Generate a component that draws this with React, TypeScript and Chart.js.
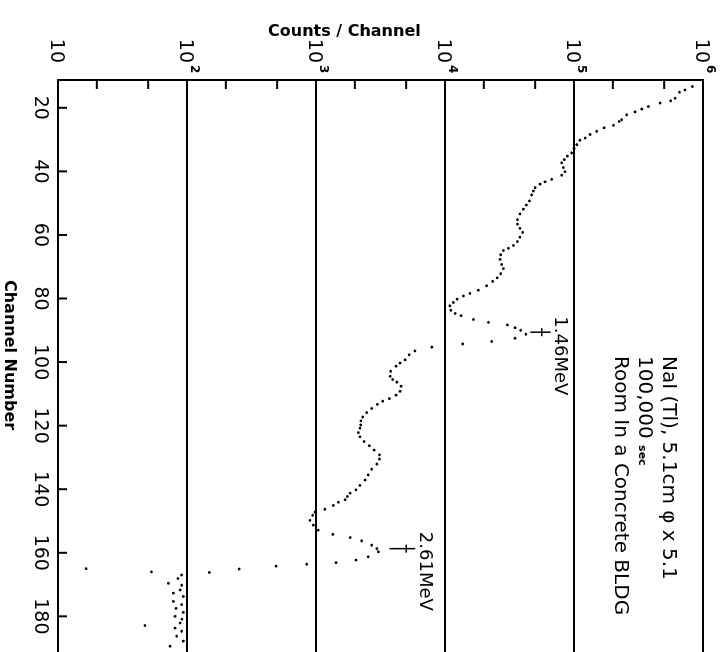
import React, { useEffect, useRef } from "react";
import { Chart, registerables } from "chart.js";

Chart.register(...registerables);

// Channel axis tick labels
const channelTicks = [20, 40, 60, 80, 100, 120, 140, 160, 180];
// Counts axis decades (exponents of 10) and minor tick multipliers
const countDecades = [1, 2, 3, 4, 5, 6];
const minorMultipliers = [2, 5];

// Spectrum dots (channel, counts/channel)
const channels = [
  13.3, 14.4, 15.1, 17.0, 17.8, 18.5, 19.6, 20.4, 21.3, 22.2,
  23.75, 24.3, 25.5, 26.3, 27.4, 28.4, 29.5, 30.2, 31.6, 32.8,
  34.2, 35.2, 36.3, 37.3, 38.8, 40.1, 41.2, 42.5, 43.3, 44.0,
  45.1, 46.2, 47.4, 49.3, 50.6, 51.9, 53.4, 55.2, 56.6, 57.9,
  59.2, 60.7, 62.1, 63.3, 64.2, 64.9, 66.25, 67.7, 69.3, 70.6,
  72.2, 73.5, 74.6, 76.0, 77.4, 78.4, 79.2, 80.2, 81.25, 82.3,
  83.7, 84.7, 85.4, 86.6, 87.5, 88.3, 89.2, 90.0, 91.25, 92.5,
  93.5, 94.3, 95.3, 96.5, 97.7, 99.3, 100.3, 101.3, 102.9, 104.5,
  105.5, 106.3, 107.6, 109.2, 110.4, 111.5, 112.3, 113.3, 114.6, 115.9,
  117.3, 118.5, 119.8, 120.8, 122.2, 123.5, 125.0, 126.3, 127.7, 129.2,
  130.5, 132.1, 133.7, 135.5, 137.1, 138.8, 140.2, 141.25, 142.3, 143.3,
  144.1, 145.1, 146.3, 147.2, 148.2, 149.8, 151.3, 152.9, 154.2, 155.2,
  156.25, 157.6, 158.7, 159.7, 161.25, 162.3, 163.1, 163.6, 164.2, 165.1,
  166.2, 165.0, 166.0, 167.0, 168.1, 169.6, 170.2, 171.7, 172.7, 173.75,
  175.3, 176.3, 177.5, 178.75, 180.0, 180.9, 182.1, 182.9, 183.7, 184.7,
  186.25, 187.8, 189.4,
];
const counts = [
  826000, 724000, 656000, 607000, 562000, 465000, 377000, 335000, 297000, 256000,
  234000, 224000, 202000, 171000, 150000, 133000, 122000, 111000, 105000, 100000,
  96000, 88700, 84000, 80200, 82600, 85100, 80200, 67100, 59600, 54500,
  49900, 48400, 47000, 45100, 42700, 40500, 38100, 36400, 36400, 38100,
  40000, 38100, 36400, 33900, 31000, 28300, 27000, 26700, 27500, 28300,
  27000, 25400, 23400, 21000, 18100, 15600, 13900, 12400, 11600, 10900,
  11100, 12000, 13300, 16600, 21700, 30400, 34900, 38600, 42300, 34900,
  23000, 13700, 7900, 5850, 5280, 4900, 4480, 4170, 3790, 3750,
  3930, 4230, 4560, 4480, 4170, 3700, 3290, 2990, 2700, 2470,
  2300, 2230, 2220, 2190, 2130, 2190, 2360, 2590, 2820, 3100,
  3100, 2960, 2700, 2540, 2400, 2190, 2040, 1840, 1750, 1680,
  1490, 1360, 1170, 982, 942, 897, 953, 1040, 1350, 1840,
  2260, 2700, 2960, 3040, 2540, 2040, 1430, 847, 490, 254,
  149, 16.5, 53, 90.8, 85.1, 71.6, 91, 88.3, 78.3, 93.5,
  78.3, 91, 82.2, 93.5, 80.7, 91.4, 88.3, 47.2, 80.7, 91,
  83.2, 93.5, 73.8,
];

const FONT = '"DejaVu Sans", "Liberation Sans", sans-serif';

// canvas is drawn unrotated (channel horizontal) and turned 90deg clockwise
const CW = 672;
const CH = 723;

export default function App() {
  const ref = useRef<HTMLCanvasElement | null>(null);

  useEffect(() => {
    const canvas = ref.current;
    if (!canvas) return;

    const background = {
      id: "bg",
      beforeDraw(chart: any) {
        const { ctx, width, height } = chart;
        ctx.save();
        ctx.fillStyle = "#fff";
        ctx.fillRect(0, 0, width, height);
        ctx.restore();
      },
    };

    const decorations = {
      id: "decor",
      afterDraw(chart: any) {
        const { ctx, chartArea: ca, scales } = chart;
        const x = scales.x;
        const y = scales.y;
        ctx.save();
        ctx.fillStyle = "#000";
        ctx.strokeStyle = "#000";
        ctx.lineWidth = 2;

        // inward tick marks on the channel axis
        channelTicks.forEach((v) => {
          const px = x.getPixelForValue(v);
          ctx.beginPath();
          ctx.moveTo(px, ca.bottom);
          ctx.lineTo(px, ca.bottom - 9);
          ctx.stroke();
        });
        // inward minor ticks on the counts axis
        countDecades.slice(0, -1).forEach((e) => {
          minorMultipliers.forEach((m) => {
            const py = y.getPixelForValue(m * Math.pow(10, e));
            ctx.beginPath();
            ctx.moveTo(ca.left, py);
            ctx.lineTo(ca.left + 9, py);
            ctx.stroke();
          });
        });

        // channel tick labels
        ctx.font = `19px ${FONT}`;
        ctx.textAlign = "center";
        ctx.textBaseline = "alphabetic";
        channelTicks.forEach((v) => {
          ctx.fillText(String(v), x.getPixelForValue(v), ca.bottom + 23);
        });

        // counts tick labels 10, 10^2 ... 10^6
        countDecades.forEach((e) => {
          const py = y.getPixelForValue(Math.pow(10, e));
          ctx.font = `19px ${FONT}`;
          ctx.textAlign = "right";
          ctx.fillText("10", ca.left - 17, py + 7);
          if (e > 1) {
            ctx.font = `bold 12px ${FONT}`;
            ctx.textAlign = "left";
            ctx.fillText(String(e), ca.left - 15, py - 4);
          }
        });

        // axis titles
        ctx.font = `bold 16px ${FONT}`;
        ctx.textAlign = "center";
        ctx.save();
        ctx.translate(ca.left - 44, y.getPixelForValue(Math.pow(10, 3.22)));
        ctx.rotate(-Math.PI / 2);
        ctx.fillText("Counts / Channel", 0, 0);
        ctx.restore();
        ctx.fillText("Channel Number", x.getPixelForValue(97.8), ca.bottom + 53);

        // peak markers
        const marker = (ch: number, lo: number, hi: number, bar: number) => {
          const px = x.getPixelForValue(ch);
          const y1 = y.getPixelForValue(lo);
          const y2 = y.getPixelForValue(hi);
          const yb = y.getPixelForValue(bar);
          ctx.lineWidth = 1.5;
          ctx.beginPath();
          ctx.moveTo(px, y1);
          ctx.lineTo(px, y2);
          ctx.moveTo(px - 4, yb);
          ctx.lineTo(px + 4, yb);
          ctx.stroke();
        };
        marker(90.6, Math.pow(10, 4.66), Math.pow(10, 4.82), Math.pow(10, 4.75));
        marker(158.7, Math.pow(10, 3.57), Math.pow(10, 3.77), Math.pow(10, 3.7));

        ctx.font = `18px ${FONT}`;
        ctx.textAlign = "left";
        ctx.fillText("1.46MeV", x.getPixelForValue(85.6), y.getPixelForValue(Math.pow(10, 4.855)));
        ctx.fillText("2.61MeV", x.getPixelForValue(153.4), y.getPixelForValue(Math.pow(10, 3.807)));

        // detector note
        const bx = x.getPixelForValue(98.1);
        ctx.font = `20px ${FONT}`;
        ctx.fillText("NaI (Tl), 5.1cm φ x 5.1", bx, ca.top + 40);
        ctx.fillText("100,000", bx, ca.top + 64);
        const w = ctx.measureText("100,000 ").width;
        ctx.font = `bold 11px ${FONT}`;
        ctx.fillText("sec", bx + w, ca.top + 64);
        ctx.font = `20px ${FONT}`;
        ctx.fillText("Room In a Concrete BLDG", bx, ca.top + 88);

        ctx.restore();
      },
    };

    const chart = new Chart(canvas, {
      type: "scatter",
      data: {
        datasets: [
          {
            data: channels.map((c, i) => ({ x: c, y: counts[i] })),
            pointRadius: 1.4,
            pointBackgroundColor: "#000",
            pointBorderWidth: 0,
            showLine: false,
          },
        ],
      },
      options: {
        responsive: false,
        animation: false,
        layout: { padding: { left: 80, top: 20, bottom: 58, right: 0 } },
        plugins: { legend: { display: false }, tooltip: { enabled: false } },
        scales: {
          x: {
            type: "linear",
            min: 11.25,
            max: 196.25,
            ticks: { display: false },
            grid: { display: false, drawTicks: false },
            border: { display: true, color: "#000", width: 2 },
          },
          y: {
            type: "logarithmic",
            min: 10,
            max: 1e6,
            ticks: { display: false },
            grid: { color: "#000", lineWidth: 2, drawTicks: false },
            border: { display: true, color: "#000", width: 2 },
            afterBuildTicks: (s: any) => {
              s.ticks = countDecades.map((e) => ({ value: Math.pow(10, e) }));
            },
          },
        },
      },
      plugins: [background, decorations],
    } as any);

    return () => chart.destroy();
  }, []);

  return (
    <div
      style={{
        position: "fixed",
        left: 0,
        top: 0,
        width: 723,
        height: 652,
        overflow: "hidden",
        background: "#fff",
      }}
    >
      <div
        style={{
          position: "absolute",
          left: 0,
          top: 0,
          width: CW,
          height: CH,
          transformOrigin: "0 0",
          transform: `translate(${CH}px, 0px) rotate(90deg)`,
        }}
      >
        <canvas ref={ref} width={CW} height={CH} style={{ display: "block", width: CW, height: CH }} />
      </div>
    </div>
  );
}
